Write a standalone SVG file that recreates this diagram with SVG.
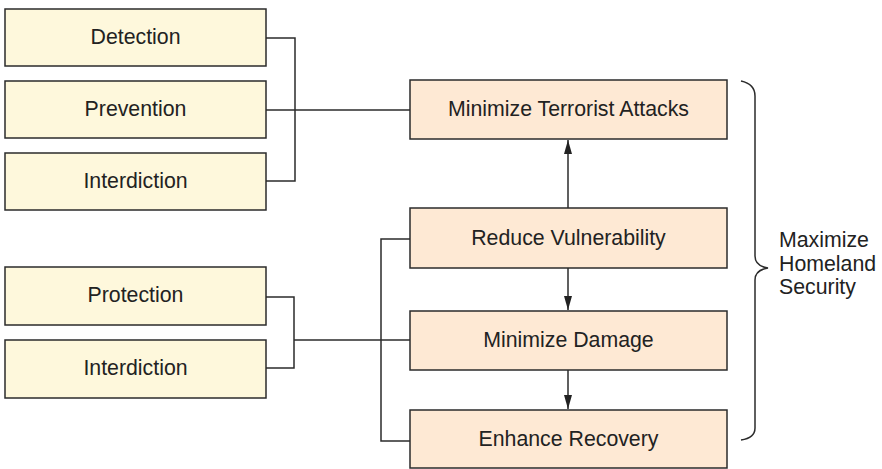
<svg xmlns="http://www.w3.org/2000/svg" width="882" height="469" viewBox="0 0 882 469">
  <defs>
    <style>
      .means rect { fill: #fef8dc; stroke: #2b2b2b; stroke-width: 1.5; }
      .goal rect { fill: #fee9d4; stroke: #2b2b2b; stroke-width: 1.5; }
      text { font-family: "Liberation Sans", Arial, sans-serif; font-size: 21.3px; fill: #222; }
      .node text { text-anchor: middle; }
      .wire { fill: none; stroke: #2b2b2b; stroke-width: 1.5; }
    </style>
    <marker id="head" viewBox="0 0 14 8" refX="14" refY="4" markerWidth="14" markerHeight="8" markerUnits="userSpaceOnUse" orient="auto">
      <path d="M0,0 L14,4 L0,8 Z" fill="#222"/>
    </marker>
  </defs>
  <rect width="882" height="469" fill="#ffffff"/>

  <!-- connectors -->
  <g id="connectors">
    <!-- upper group: detection / prevention / interdiction -->
    <path class="wire" d="M266,38 H295 V181 H266"/>
    <path class="wire" d="M266,110 H410"/>
    <!-- lower group: protection / interdiction -->
    <path class="wire" d="M266,297 H294 V368 H266"/>
    <path class="wire" d="M294,340 H410"/>
    <!-- link from reduce vulnerability to enhance recovery -->
    <path class="wire" d="M410,239 H381 V441 H410"/>
    <!-- arrows between goals -->
    <path class="wire" d="M568,208 V140" marker-end="url(#head)"/>
    <path class="wire" d="M568,268 V310" marker-end="url(#head)"/>
    <path class="wire" d="M568,370 V409" marker-end="url(#head)"/>
    <!-- brace -->
    <path class="wire" d="M741,81 Q755,84 755,96 V256 Q755,266 768,268 Q755,270 755,280 V428 Q755,438 741,440"/>
  </g>

  <g id="detection" class="node means">
    <rect x="5" y="9" width="261" height="57"/>
    <text x="135.5" y="44">Detection</text>
  </g>
  <g id="prevention" class="node means">
    <rect x="5" y="81" width="261" height="57"/>
    <text x="135.5" y="116">Prevention</text>
  </g>
  <g id="interdiction-1" class="node means">
    <rect x="5" y="153" width="261" height="57"/>
    <text x="135.5" y="188">Interdiction</text>
  </g>
  <g id="protection" class="node means">
    <rect x="5" y="267" width="261" height="58"/>
    <text x="135.5" y="302">Protection</text>
  </g>
  <g id="interdiction-2" class="node means">
    <rect x="5" y="340" width="261" height="58"/>
    <text x="135.5" y="375">Interdiction</text>
  </g>

  <g id="minimize-attacks" class="node goal">
    <rect x="410" y="80" width="317" height="59"/>
    <text x="568.5" y="116">Minimize Terrorist Attacks</text>
  </g>
  <g id="reduce-vulnerability" class="node goal">
    <rect x="410" y="208" width="317" height="60"/>
    <text x="568.5" y="245">Reduce Vulnerability</text>
  </g>
  <g id="minimize-damage" class="node goal">
    <rect x="410" y="311" width="317" height="59"/>
    <text x="568.5" y="347">Minimize Damage</text>
  </g>
  <g id="enhance-recovery" class="node goal">
    <rect x="410" y="410" width="317" height="58"/>
    <text x="568.5" y="446">Enhance Recovery</text>
  </g>

  <g id="maximize-security">
    <text x="779" y="247">Maximize</text>
    <text x="779" y="270.5">Homeland</text>
    <text x="779" y="294">Security</text>
  </g>
</svg>
